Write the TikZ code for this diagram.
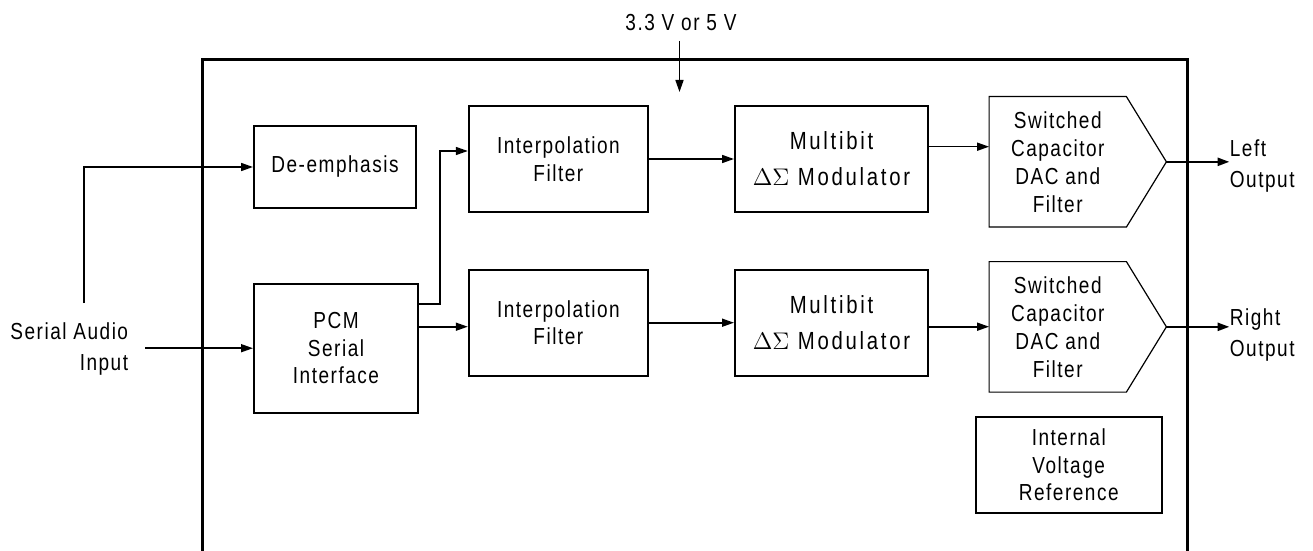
\documentclass[tikz,border=0pt]{standalone}
\usepackage{fontspec}
\setmainfont{Liberation Sans}[FakeStretch=0.82,LetterSpace=6.5]
\newfontfamily\modfont{Liberation Sans}[FakeStretch=0.82,LetterSpace=11]
\usetikzlibrary{arrows.meta}
\tikzset{
  block/.style={draw,line width=1pt,inner sep=0pt,align=center,font=\fontsize{11.6}{13.8}\selectfont},
  modbox/.style={block,minimum width=96.5pt,minimum height=53pt,font=\modfont\fontsize{12.4}{18}\selectfont},
  dacbox/.style={inner sep=0pt,align=center,minimum width=68.25pt,minimum height=64.85pt,font=\fontsize{11.6}{14}\selectfont},
  label/.style={inner sep=0pt,font=\fontsize{11.6}{15.5}\selectfont},
  arr/.style={-{Triangle[length=6pt,width=4pt]},line width=0.8pt},
}
\begin{document}
\begin{tikzpicture}[x=0.5pt,y=-0.5pt]
\useasboundingbox (0,0) rectangle (1313,551);

% chip outline, open at the bottom
\draw [line width=1.5pt] (202,551) -- (202,59.5) -- (1187,59.5) -- (1187,551);

% supply
\node [label] (vdd) at (681,23) {3.3 V or 5 V};
\coordinate (vddtop) at (679.5,41);
\coordinate (vddend) at (679.5,92);
\draw [arr] (vddtop) -- (vddend);

% blocks
\node [block,minimum width=81pt,minimum height=41pt] (deemph) at (335,167) {De-emphasis};
\node [block,minimum width=82pt,minimum height=64.5pt] (pcm) at (336,348.2) {PCM\\Serial\\Interface};
\node [block,minimum width=89.6pt,minimum height=53pt] (interpL) at (558.4,159) {Interpolation\\Filter};
\node [block,minimum width=89.6pt,minimum height=53pt] (interpR) at (558.4,322.7) {Interpolation\\Filter};
\node [modbox] (modL) at (831.5,159) {Multibit\\$\Delta\Sigma$ Modulator};
\node [modbox] (modR) at (831.5,322.7) {Multibit\\$\Delta\Sigma$ Modulator};
\node [block,minimum width=93.25pt,minimum height=48.3pt] (vref) at (1068.75,465) {Internal\\Voltage\\Reference};

% DAC blocks with pointed end
\foreach \name/\y in {dacL/161.85,dacR/326.85}
{
  \node [dacbox] (\name) at (1057.75,\y) {Switched\\Capacitor\\DAC and\\Filter};
  \coordinate (\name tip) at ([xshift=20pt]\name.east);
  \draw [line width=0.6pt] (\name.north west) -- (\name.north east) -- (\name tip)
        -- (\name.south east) -- (\name.south west) -- cycle;
}

% input side
\node [label,anchor=east,align=right] (sai) at (128.5,349) {Serial Audio\\Input};
\coordinate (sin) at (145,348.2);
\coordinate (fb) at (84,303);
\draw [arr] (sin) -- (pcm.west);
\draw [arr] (fb) |- (deemph.west);

% signal path
\draw [arr] ([yshift=22pt]pcm.east) -- ++(21,0) |- ([yshift=4pt]interpL.west);
\draw [arr] ([yshift=10.75pt]pcm.east) coordinate (pcmR) -- (pcmR -| interpR.west);
\draw [arr] (interpL) -- (modL);
\draw [arr] (interpR) -- (modR);
\draw [arr] ([yshift=6.15pt]modL.east) coordinate (mL) -- (mL -| dacL.west);
\draw [arr] ([yshift=-2pt]modR.east) coordinate (mR) -- (mR -| dacR.west);

% outputs
\node [label,anchor=west,align=left] (lout) at (1229.5,166.4) {Left\\Output};
\node [label,anchor=west,align=left] (rout) at (1229.5,335.4) {Right\\Output};
\draw [arr,line width=1.2pt] (dacLtip) -- (lout.west |- dacLtip);
\draw [arr,line width=1.2pt] (dacRtip) -- (rout.west |- dacRtip);

\end{tikzpicture}
\end{document}
